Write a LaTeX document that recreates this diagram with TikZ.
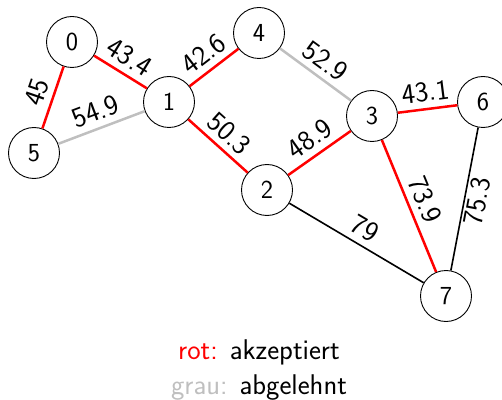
\documentclass[tikz,border=0pt]{standalone}
\usepackage{tikz}
\usetikzlibrary{calc}

\tikzset{
    vertex/.style={draw,circle,line width=0.9pt,minimum size=51pt,inner sep=0pt,fill=white,font=\sffamily\fontsize{26}{30}\selectfont},
    accepted/.style={draw=red,line width=2.5pt},
    rejected/.style={draw=black!25,line width=2.5pt},
    open/.style={draw=black,line width=1.6pt},
    weight/.style={sloped,above=4pt,inner sep=2pt}
}

\begin{document}
\begin{tikzpicture}[x=1pt,y=1pt,font=\sffamily\fontsize{28.5}{33}\selectfont]
    \useasboundingbox (0,0) rectangle (502,399);

    \node[vertex] (v0) at (72,357) {0};
    \node[vertex] (v1) at (169,297) {1};
    \node[vertex] (v2) at (267,209) {2};
    \node[vertex] (v3) at (372,283) {3};
    \node[vertex] (v4) at (259,366) {4};
    \node[vertex] (v5) at (34,246) {5};
    \node[vertex] (v6) at (483,297) {6};
    \node[vertex] (v7) at (446,103) {7};

    \draw[accepted] (v0) -- node[weight] {43.4} (v1);
    \draw[accepted] (v5) -- node[weight] {45} (v0);
    \draw[rejected] (v5) -- node[weight] {54.9} (v1);
    \draw[accepted] (v1) -- node[weight] {42.6} (v4);
    \draw[accepted] (v1) -- node[weight] {50.3} (v2);
    \draw[rejected] (v4) -- node[weight] {52.9} (v3);
    \draw[accepted] (v2) -- node[weight] {48.9} (v3);
    \draw[accepted] (v3) -- node[weight] {43.1} (v6);
    \draw[accepted] (v3) -- node[weight] {73.9} (v7);
    \draw[open] (v2) -- node[weight] {79} (v7);
    \draw[open] (v7) -- node[weight,below=4pt] {75.3} (v6);

    % Legende
    \node (legendRed) at (259,47) {\textcolor{red}{rot:} akzeptiert};
    \node (legendGray) at (259,11) {\textcolor{black!25}{grau:} abgelehnt};
\end{tikzpicture}
\end{document}
